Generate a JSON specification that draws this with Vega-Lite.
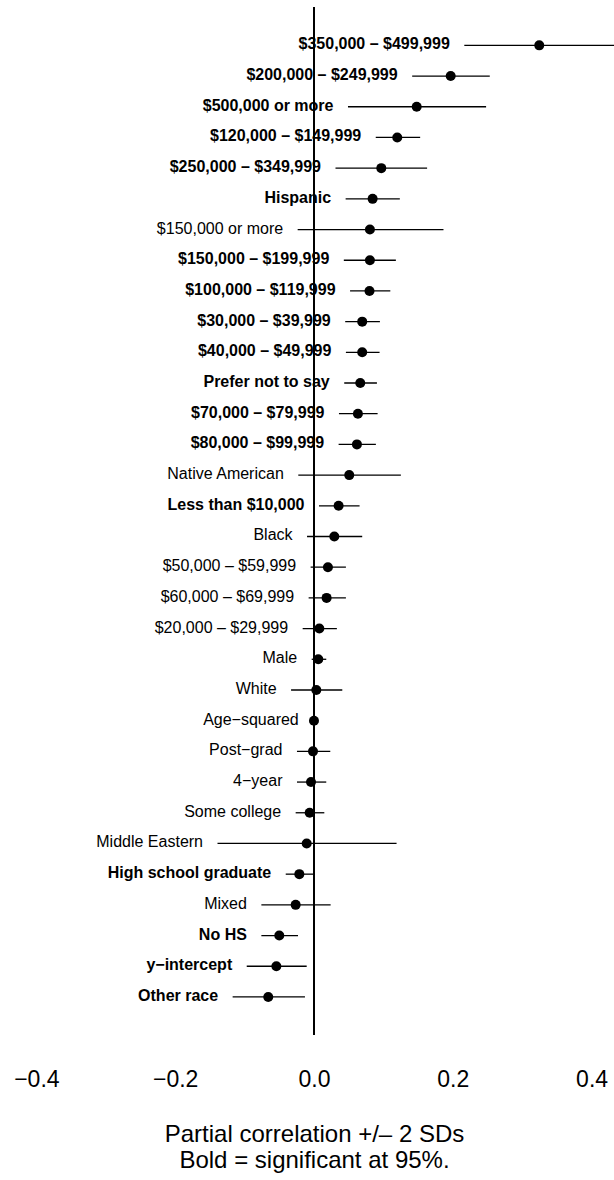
{
  "$schema": "https://vega.github.io/schema/vega-lite/v6.json",
  "autosize": {"type": "none"},
  "padding": {"left": 0, "top": 7.3, "right": 0, "bottom": 145},
  "width": 614,
  "height": 1027.7,
  "background": "white",
  "config": {"view": {"stroke": null}, "font": "Liberation Sans"},
  "data": {"values": [
    {"term": "$350,000 – $499,999", "est": 0.3246, "lo": 0.2166, "hi": 0.4326, "sig": true},
    {"term": "$200,000 – $249,999", "est": 0.197, "lo": 0.1415, "hi": 0.2533, "sig": true},
    {"term": "$500,000 or more", "est": 0.148, "lo": 0.049, "hi": 0.248, "sig": true},
    {"term": "$120,000 – $149,999", "est": 0.120, "lo": 0.089, "hi": 0.153, "sig": true},
    {"term": "$250,000 – $349,999", "est": 0.097, "lo": 0.031, "hi": 0.163, "sig": true},
    {"term": "Hispanic", "est": 0.0845, "lo": 0.0456, "hi": 0.1237, "sig": true},
    {"term": "$150,000 or more", "est": 0.0806, "lo": -0.0235, "hi": 0.1866, "sig": false},
    {"term": "$150,000 – $199,999", "est": 0.0806, "lo": 0.043, "hi": 0.118, "sig": true},
    {"term": "$100,000 – $119,999", "est": 0.080, "lo": 0.052, "hi": 0.110, "sig": true},
    {"term": "$30,000 – $39,999", "est": 0.0695, "lo": 0.045, "hi": 0.095, "sig": true},
    {"term": "$40,000 – $49,999", "est": 0.0695, "lo": 0.046, "hi": 0.0945, "sig": true},
    {"term": "Prefer not to say", "est": 0.0667, "lo": 0.0436, "hi": 0.0907, "sig": true},
    {"term": "$70,000 – $79,999", "est": 0.0633, "lo": 0.036, "hi": 0.0917, "sig": true},
    {"term": "$80,000 – $99,999", "est": 0.0619, "lo": 0.0355, "hi": 0.0892, "sig": true},
    {"term": "Native American", "est": 0.0508, "lo": -0.0226, "hi": 0.1252, "sig": false},
    {"term": "Less than $10,000", "est": 0.0355, "lo": 0.0072, "hi": 0.0657, "sig": true},
    {"term": "Black", "est": 0.0293, "lo": -0.010, "hi": 0.0695, "sig": false},
    {"term": "$50,000 – $59,999", "est": 0.0201, "lo": -0.0048, "hi": 0.046, "sig": false},
    {"term": "$60,000 – $69,999", "est": 0.0182, "lo": -0.0077, "hi": 0.046, "sig": false},
    {"term": "$20,000 – $29,999", "est": 0.0077, "lo": -0.0163, "hi": 0.033, "sig": false},
    {"term": "Male", "est": 0.0062, "lo": -0.0033, "hi": 0.0177, "sig": false},
    {"term": "White", "est": 0.0034, "lo": -0.033, "hi": 0.0408, "sig": false},
    {"term": "Age−squared", "est": 0.0, "lo": -0.001, "hi": 0.001, "sig": false},
    {"term": "Post−grad", "est": -0.0014, "lo": -0.0245, "hi": 0.0235, "sig": false},
    {"term": "4−year", "est": -0.0043, "lo": -0.0245, "hi": 0.0177, "sig": false},
    {"term": "Some college", "est": -0.0062, "lo": -0.0264, "hi": 0.0149, "sig": false},
    {"term": "Middle Eastern", "est": -0.0105, "lo": -0.139, "hi": 0.119, "sig": false},
    {"term": "High school graduate", "est": -0.0211, "lo": -0.0407, "hi": -0.001, "sig": true},
    {"term": "Mixed", "est": -0.0264, "lo": -0.0758, "hi": 0.024, "sig": false},
    {"term": "No HS", "est": -0.050, "lo": -0.0758, "hi": -0.023, "sig": true},
    {"term": "y−intercept", "est": -0.0542, "lo": -0.0969, "hi": -0.0105, "sig": true},
    {"term": "Other race", "est": -0.0659, "lo": -0.1172, "hi": -0.013, "sig": true}
  ]},
  "encoding": {
    "y": {"field": "term", "type": "nominal", "sort": null,
          "scale": {"type": "band", "paddingInner": 0, "paddingOuter": 0.74}, "axis": null}
  },
  "layer": [
    {
      "mark": {"type": "rule", "color": "black", "strokeWidth": 1.3},
      "encoding": {"x": {"datum": 0, "type": "quantitative"}, "y": null}
    },
    {
      "mark": {"type": "rule", "color": "black", "strokeWidth": 1.3, "clip": true},
      "encoding": {
        "x": {"field": "lo", "type": "quantitative",
              "scale": {"domain": [-0.4524, 0.4323], "nice": false, "zero": false},
              "axis": {
                "values": [-0.4, -0.2, 0, 0.2, 0.4], "format": ".1f",
                "domain": false, "ticks": false, "tickSize": 0, "grid": false,
                "labelFontSize": 23, "labelColor": "black", "labelFont": "Liberation Sans",
                "labelPadding": 33, "labelFlush": false, "labelOverlap": false,
                "title": ["Partial correlation +/– 2 SDs", "Bold = significant at 95%."],
                "titleFontSize": 24, "titleFontWeight": "normal", "titleColor": "black",
                "titleFont": "Liberation Sans", "titleBaseline": "top",
                "titleX": 314, "titleAlign": "center",
                "titleY": 87, "titleLineHeight": 26
              }},
        "x2": {"field": "hi"}
      }
    },
    {
      "mark": {"type": "point", "filled": true, "color": "black", "opacity": 1, "size": 100, "shape": "circle"},
      "encoding": {"x": {"field": "est", "type": "quantitative"}}
    },
    {
      "transform": [{"filter": {"field": "sig", "equal": true}}],
      "mark": {"type": "text", "align": "right", "baseline": "middle", "dx": -14.5, "dy": -1,
               "fontSize": 16, "fontWeight": "bold", "color": "black", "font": "Liberation Sans"},
      "encoding": {"x": {"field": "lo", "type": "quantitative"}, "text": {"field": "term"}}
    },
    {
      "transform": [{"filter": {"field": "sig", "equal": false}}],
      "mark": {"type": "text", "align": "right", "baseline": "middle", "dx": -14.5, "dy": -1,
               "fontSize": 16, "fontWeight": "normal", "color": "black", "font": "Liberation Sans"},
      "encoding": {"x": {"field": "lo", "type": "quantitative"}, "text": {"field": "term"}}
    }
  ]
}
